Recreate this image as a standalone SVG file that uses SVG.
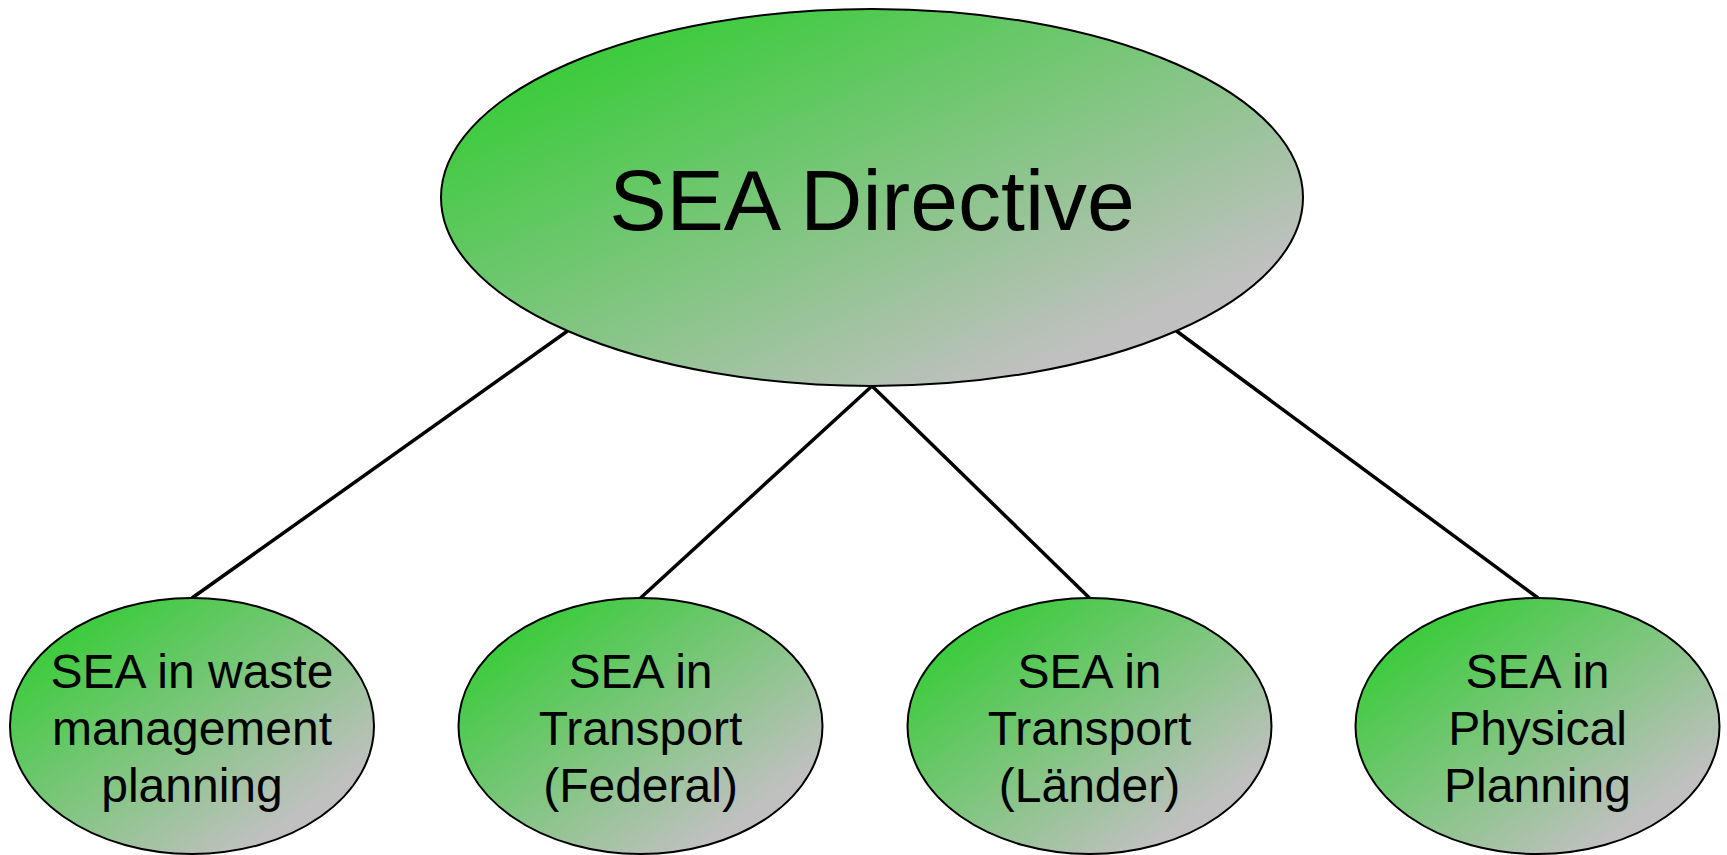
<svg xmlns="http://www.w3.org/2000/svg" width="1727" height="855" viewBox="0 0 1727 855">
<style>
.node{stroke:#000;stroke-width:2;fill:url(#g)}
.lbl{font-family:"Liberation Sans",Arial,sans-serif;fill:#000;text-anchor:middle}
.small{font-size:48px}
.big{font-size:86px}
.conn{stroke:#000;stroke-width:3.5;fill:none}
</style>
<defs>
<linearGradient id="g" x1="0" y1="0" x2="1" y2="1">
<stop offset="0.1" stop-color="#33CC33"/>
<stop offset="0.82" stop-color="#C0C0C0"/>
</linearGradient>
</defs>
<rect width="1727" height="855" fill="#fff"/>
<g id="connectors">
<line class="conn" x1="567.5" y1="331" x2="192" y2="598"/>
<line class="conn" x1="872" y1="386" x2="640.5" y2="598"/>
<line class="conn" x1="872" y1="386" x2="1089.5" y2="598"/>
<line class="conn" x1="1176.5" y1="331" x2="1538" y2="598"/>
</g>
<g id="sea-directive">
<ellipse class="node" cx="872" cy="197.5" rx="431" ry="188.5"/>
<text class="lbl big" x="872" y="230">SEA Directive</text>
</g>
<g id="sea-waste">
<ellipse class="node" cx="192" cy="726" rx="182" ry="128"/>
<text class="lbl small" x="192" y="688">SEA in waste</text>
<text class="lbl small" x="192" y="745">management</text>
<text class="lbl small" x="192" y="802">planning</text>
</g>
<g id="sea-transport-federal">
<ellipse class="node" cx="640.5" cy="726" rx="182" ry="128"/>
<text class="lbl small" x="640.5" y="688">SEA in</text>
<text class="lbl small" x="640.5" y="745">Transport</text>
<text class="lbl small" x="640.5" y="802">(Federal)</text>
</g>
<g id="sea-transport-laender">
<ellipse class="node" cx="1089.5" cy="726" rx="182" ry="128"/>
<text class="lbl small" x="1089.5" y="688">SEA in</text>
<text class="lbl small" x="1089.5" y="745">Transport</text>
<text class="lbl small" x="1089.5" y="802">(Länder)</text>
</g>
<g id="sea-physical">
<ellipse class="node" cx="1537.5" cy="726" rx="182" ry="128"/>
<text class="lbl small" x="1537.5" y="688">SEA in</text>
<text class="lbl small" x="1537.5" y="745">Physical</text>
<text class="lbl small" x="1537.5" y="802">Planning</text>
</g>
</svg>
